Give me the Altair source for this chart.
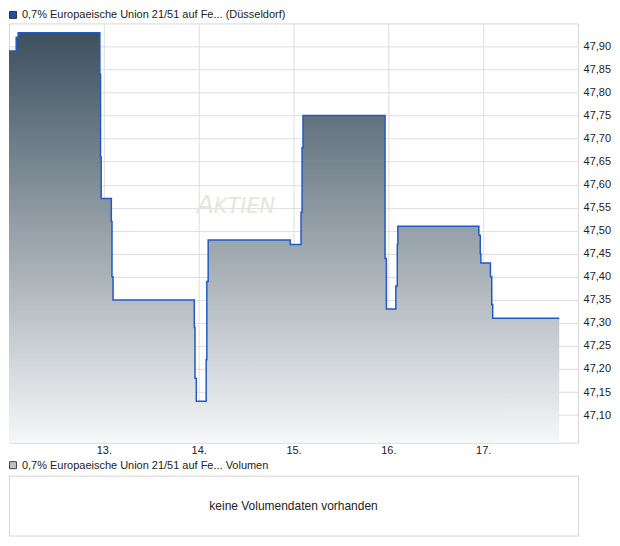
import altair as alt
import pandas as pd

# ---- data ----
days = [12.0, 12.076, 12.097, 12.958, 12.965, 12.972, 13.079, 13.086, 13.097,
        13.954, 13.961, 13.975, 14.079, 14.086, 14.100, 14.965, 15.079, 15.090, 15.100,
        15.965, 15.979, 16.079, 16.094, 16.100, 16.954, 16.969, 16.975,
        17.076, 17.090, 17.100, 17.802]
prices = [47.89, 47.92, 47.93, 47.84, 47.66, 47.57, 47.52, 47.40, 47.35,
          47.29, 47.18, 47.13, 47.22, 47.39, 47.48, 47.47, 47.54, 47.68, 47.75,
          47.44, 47.33, 47.38, 47.47, 47.51, 47.49, 47.45, 47.43,
          47.40, 47.34, 47.31, 47.31]
x_ticks = [13, 14, 15, 16, 17]
y_ticks = [47.10, 47.15, 47.20, 47.25, 47.30, 47.35, 47.40, 47.45, 47.50,
           47.55, 47.60, 47.65, 47.70, 47.75, 47.80, 47.85, 47.90]
y_domain = [47.04, 47.95]
legend_price = "0,7% Europaeische Union 21/51 auf Fe... (Düsseldorf)"
legend_volume = "0,7% Europaeische Union 21/51 auf Fe... Volumen"
no_volume = "keine Volumendaten vorhanden"

FONT = "Liberation Sans"
W = 570

df = pd.DataFrame({"day": days, "price": prices})

x = alt.X("day:Q",
          scale=alt.Scale(domain=[12, 18], nice=False, zero=False),
          axis=alt.Axis(values=x_ticks, labelExpr="datum.value + '.'", orient="bottom",
                        ticks=False, domain=False, grid=True, gridColor="#dedede",
                        labelFontSize=11, labelColor="#222222", labelPadding=2,
                        labelFont=FONT, title=None))
y = alt.Y("price:Q",
          scale=alt.Scale(domain=y_domain, nice=False, zero=False),
          axis=alt.Axis(values=y_ticks, format=".2f",
                        labelExpr="replace(datum.label, '.', ',')", orient="right",
                        ticks=False, domain=False, grid=True, gridColor="#dedede",
                        labelFontSize=11, labelColor="#222222", labelPadding=5,
                        labelFont=FONT, title=None))

grad = {
    "gradient": "linear",
    "x1": 1, "y1": 1, "x2": 1, "y2": 0,
    "stops": [{"offset": 0, "color": "#f6f7f8"},
              {"offset": 1, "color": "#3c505f"}],
}

base = alt.Chart(df)
area = base.mark_area(interpolate="step-after", fill=grad, opacity=1, clip=True).encode(
    x=x, y=y, y2=alt.datum(y_domain[0]))
line = base.mark_line(interpolate="step-after", color="#2159c4", strokeWidth=1.5,
                      clip=True).encode(x=x, y=y)

wm = pd.DataFrame({"a": ["A"], "b": ["KTIEN"]})
wm_a = alt.Chart(wm).mark_text(fontSize=25, fontStyle="italic", font="DejaVu Sans",
                               color="#e8e4df", align="left", baseline="alphabetic").encode(
    x=alt.value(188), y=alt.value(190), text="a:N")
wm_b = alt.Chart(wm).mark_text(fontSize=21, fontStyle="italic", font="DejaVu Sans",
                               color="#e8e4df", align="left", baseline="alphabetic").encode(
    x=alt.value(205), y=alt.value(190), text="b:N")

leg = pd.DataFrame({"t": [legend_price]})
leg_sq = alt.Chart(leg).mark_rect(fill="#1f4fa8", stroke="#333333", strokeWidth=1).encode(
    x=alt.value(0.5), x2=alt.value(7.5), y=alt.value(-12), y2=alt.value(-5))
leg_tx = alt.Chart(leg).mark_text(fontSize=11, font=FONT, color="#222222", align="left",
                                  baseline="middle").encode(
    x=alt.value(13), y=alt.value(-8.5), text="t:N")

main = alt.layer(wm_a, wm_b, area, line, leg_sq, leg_tx).properties(width=W, height=420)

vl = pd.DataFrame({"t": [legend_volume], "n": [no_volume]})
vol_sq = alt.Chart(vl).mark_rect(fill="#c0c0c0", stroke="#444444", strokeWidth=1).encode(
    x=alt.value(0.5), x2=alt.value(7.5), y=alt.value(-14), y2=alt.value(-7))
vol_tx = alt.Chart(vl).mark_text(fontSize=11, font=FONT, color="#222222", align="left",
                                 baseline="middle").encode(
    x=alt.value(13), y=alt.value(-10), text="t:N")
vol_msg = alt.Chart(vl).mark_text(fontSize=12, font=FONT, color="#222222", align="center",
                                  baseline="middle").encode(
    x=alt.value(W / 2), y=alt.value(30), text="n:N")
vol = alt.layer(vol_sq, vol_tx, vol_msg).properties(width=W, height=60)

chart = alt.vconcat(main, vol, spacing=2).properties(padding=0, background="white").configure_view(
    stroke="#d6d6d6", strokeWidth=1)

chart.save("out.html", embed_options={"renderer": "svg", "actions": False})
